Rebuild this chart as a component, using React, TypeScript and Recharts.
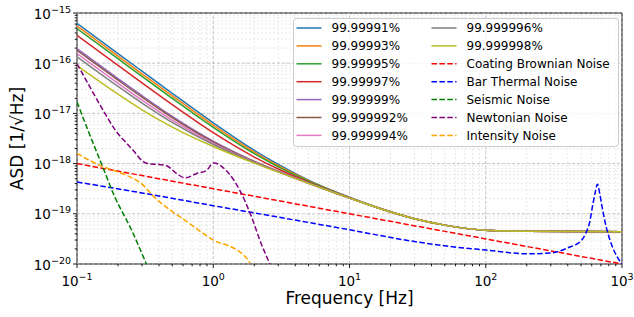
import React from "react";
import {
  LineChart,
  Line,
  XAxis,
  YAxis,
  CartesianGrid,
  ReferenceLine,
  ReferenceArea,
  Legend,
} from "recharts";

const FONT = "DejaVu Sans";

// frequencies shared by the mirror curves [Hz]
const FREQ = [0.1, 0.2, 0.3, 0.5, 1, 2, 3, 5, 10, 20, 30, 50, 100, 200, 500, 1000];

// total ASD per mirror reflectivity
const ASD_91 = [6.2e-16, 1.55e-16, 6.92e-17, 2.51e-17, 6.5e-18, 1.84e-18, 9.6e-19, 4.7e-19, 2.14e-19, 1.1e-19, 8.0e-20, 5.95e-20, 4.7e-20, 4.5e-20, 4.42e-20, 4.4e-20];
const ASD_93 = [5.5e-16, 1.38e-16, 6.15e-17, 2.24e-17, 5.85e-18, 1.7e-18, 9.05e-19, 4.59e-19, 2.12e-19, 1.1e-19, 8.0e-20, 5.95e-20, 4.7e-20, 4.5e-20, 4.42e-20, 4.4e-20];
const ASD_95 = [4.9e-16, 1.23e-16, 5.48e-17, 2.0e-17, 5.29e-18, 1.58e-18, 8.62e-19, 4.48e-19, 2.1e-19, 1.1e-19, 8.0e-20, 5.95e-20, 4.7e-20, 4.5e-20, 4.42e-20, 4.4e-20];
const ASD_97 = [3.6e-16, 9.06e-17, 4.06e-17, 1.49e-17, 4.12e-18, 1.35e-18, 7.79e-19, 4.27e-19, 2.08e-19, 1.09e-19, 8.0e-20, 5.95e-20, 4.7e-20, 4.5e-20, 4.42e-20, 4.4e-20];
const ASD_99 = [1.95e-16, 4.95e-17, 2.26e-17, 8.73e-18, 2.79e-18, 1.11e-18, 7.02e-19, 4.1e-19, 2.06e-19, 1.09e-19, 8.0e-20, 5.95e-20, 4.7e-20, 4.5e-20, 4.42e-20, 4.4e-20];
const ASD_992 = [1.8e-16, 4.59e-17, 2.1e-17, 8.2e-18, 2.68e-18, 1.1e-18, 6.97e-19, 4.09e-19, 2.06e-19, 1.09e-19, 8.0e-20, 5.95e-20, 4.7e-20, 4.5e-20, 4.42e-20, 4.4e-20];
const ASD_994 = [1.55e-16, 3.98e-17, 1.84e-17, 7.34e-18, 2.52e-18, 1.07e-18, 6.9e-19, 4.07e-19, 2.05e-19, 1.09e-19, 8.0e-20, 5.95e-20, 4.7e-20, 4.5e-20, 4.42e-20, 4.4e-20];
const ASD_996 = [1.34e-16, 3.45e-17, 1.61e-17, 6.62e-18, 2.4e-18, 1.05e-18, 6.84e-19, 4.06e-19, 2.05e-19, 1.09e-19, 8.0e-20, 5.95e-20, 4.7e-20, 4.5e-20, 4.42e-20, 4.4e-20];
const ASD_998 = [9.0e-17, 2.42e-17, 1.18e-17, 5.33e-18, 2.19e-18, 1.02e-18, 6.75e-19, 4.04e-19, 2.05e-19, 1.09e-19, 8.0e-20, 5.95e-20, 4.7e-20, 4.5e-20, 4.42e-20, 4.4e-20];

const MIRROR_LABELS = [
  "99.99991%", "99.99993%", "99.99995%", "99.99997%", "99.99999%",
  "99.999992%", "99.999994%", "99.999996%", "99.999998%",
];
const MIRROR_COLORS = [
  "#1f77b4", "#ff7f0e", "#2ca02c", "#d62728", "#9467bd",
  "#8c564b", "#e377c2", "#7f7f7f", "#bcbd22",
];
const MIRROR_ASD = [ASD_91, ASD_93, ASD_95, ASD_97, ASD_99, ASD_992, ASD_994, ASD_996, ASD_998];

// noise budgets
const COATING_F = [0.1, 1, 10, 100, 1000];
const COATING_ASD = [1.0e-18, 3.16e-19, 1.0e-19, 3.16e-20, 1.0e-20];

const THERMAL_F = [0.1, 0.3, 1, 3, 10, 30, 50, 100, 200, 300, 400, 500, 540, 580, 610, 635, 660, 685, 710, 750, 790, 850, 920, 1000];
const THERMAL_ASD = [4.3e-19, 2.6e-19, 1.45e-19, 8.6e-20, 4.8e-20, 2.8e-20, 2.3e-20, 1.9e-20, 1.6e-20, 1.65e-20, 2.1e-20, 2.9e-20, 4.0e-20, 7.0e-20, 1.5e-19, 2.6e-19, 3.9e-19, 2.6e-19, 1.5e-19, 7.0e-20, 4.0e-20, 2.2e-20, 1.4e-20, 1.0e-20];

const SEISMIC_F = [0.1, 0.12, 0.151, 0.189, 0.251, 0.323, 0.36];
const SEISMIC_ASD = [1.7e-17, 4.7e-18, 1.0e-18, 2.2e-19, 4.8e-20, 1.0e-20, 5.0e-21];

const NEWTON_F = [0.1, 0.124, 0.155, 0.195, 0.23, 0.26, 0.3, 0.33, 0.4, 0.45, 0.54, 0.62, 0.75, 0.89, 1.01, 1.25, 1.57, 1.9, 2.24, 2.6, 2.8];
const NEWTON_ASD = [9.8e-17, 3.4e-17, 1.17e-17, 4.3e-18, 2.6e-18, 1.8e-18, 1.15e-18, 1.0e-18, 9.6e-19, 9.2e-19, 6.3e-19, 5.2e-19, 6.3e-19, 7.3e-19, 1.03e-18, 7.2e-19, 2.9e-19, 9.0e-20, 2.6e-20, 1.0e-20, 6.0e-21];

const INTENSITY_F = [0.1, 0.15, 0.2, 0.25, 0.3, 0.36, 0.48, 0.64, 0.84, 1.0, 1.3, 1.5, 1.65, 1.8, 1.86];
const INTENSITY_ASD = [1.6e-18, 9.0e-19, 6.8e-19, 5.3e-19, 3.9e-19, 2.3e-19, 1.2e-19, 7.0e-20, 4.1e-20, 3.0e-20, 2.3e-20, 1.9e-20, 1.55e-20, 1.2e-20, 1.05e-20];

const NOISES = [
  { name: "Coating Brownian Noise", color: "#ff0000", f: COATING_F, v: COATING_ASD },
  { name: "Bar Thermal Noise", color: "#0000ff", f: THERMAL_F, v: THERMAL_ASD },
  { name: "Seismic Noise", color: "#008000", f: SEISMIC_F, v: SEISMIC_ASD },
  { name: "Newtonian Noise", color: "#800080", f: NEWTON_F, v: NEWTON_ASD },
  { name: "Intensity Noise", color: "#ffa500", f: INTENSITY_F, v: INTENSITY_ASD },
];

const X_DECADES = [0.1, 1, 10, 100, 1000];
const Y_DECADES = [1e-20, 1e-19, 1e-18, 1e-17, 1e-16, 1e-15];

const minorTicks = (decades: number[]) => {
  const out: number[] = [];
  decades.forEach((d, i) => {
    out.push(d);
    if (i < decades.length - 1) for (let k = 2; k <= 9; k++) out.push(d * k);
  });
  return out;
};
const X_TICKS = minorTicks(X_DECADES);
const Y_TICKS = minorTicks(Y_DECADES);

const DASH = "5.5 2.4";

const mirrorRows = FREQ.map((f, i) => {
  const row: any = { f };
  MIRROR_ASD.forEach((s, j) => (row["m" + j] = s[i]));
  return row;
});

const expOf = (v: number) => {
  const l = Math.log10(v);
  const e = Math.round(l);
  return { e, major: Math.abs(l - e) < 1e-6 };
};
const expText = (e: number) => (e < 0 ? "\u2212" + Math.abs(e) : String(e));

const XTick = (props: any) => {
  const { x, y, payload } = props;
  const { e, major } = expOf(payload.value);
  return (
    <g>
      <line x1={x} x2={x} y1={y} y2={y + (major ? 4 : 2.3)} stroke="#000" strokeWidth={0.9} />
      {major && (
        <text x={x} y={y + 22} textAnchor="middle" fontFamily={FONT} fontSize={13.5} fill="#000">
          <tspan>10</tspan>
          <tspan dy={-6} fontSize={9.5}>{expText(e)}</tspan>
        </text>
      )}
    </g>
  );
};

const YTick = (props: any) => {
  const { x, y, payload } = props;
  const { e, major } = expOf(payload.value);
  return (
    <g>
      <line x1={x - (major ? 4 : 2.3)} x2={x} y1={y} y2={y} stroke="#000" strokeWidth={0.9} />
      {major && (
        <text x={x - 6} y={y + 5.5} textAnchor="end" fontFamily={FONT} fontSize={13.5} fill="#000">
          <tspan>10</tspan>
          <tspan dy={-6} fontSize={9.5}>{expText(e)}</tspan>
        </text>
      )}
    </g>
  );
};

const LEGEND_ITEMS = [
  ...MIRROR_LABELS.map((name, i) => ({ name, color: MIRROR_COLORS[i], dashed: false })),
  ...NOISES.map((n) => ({ name: n.name, color: n.color, dashed: true })),
];

const LegendBox = () => (
  <svg width={326} height={129} style={{ display: "block" }}>
    <rect x={0.5} y={0.5} width={325} height={128} rx={3} fill="#fff" fillOpacity={0.8} stroke="#cccccc" />
    {LEGEND_ITEMS.map((it, i) => {
      const col = Math.floor(i / 7);
      const row = i % 7;
      const lx = col === 0 ? 3.5 : 138.5;
      const cy = 10 + row * 17.9;
      return (
        <g key={it.name}>
          <line
            x1={lx}
            x2={lx + 25}
            y1={cy}
            y2={cy}
            stroke={it.color}
            strokeWidth={1.5}
            strokeDasharray={it.dashed ? DASH : undefined}
          />
          <text x={lx + 35} y={cy + 4.4} fontFamily={FONT} fontSize={12} fill="#000">
            {it.name}
          </text>
        </g>
      );
    })}
  </svg>
);

export default function App() {
  return (
    <div style={{ position: "absolute", left: 0, top: 0 }}>
      <LineChart width={634} height={317} data={mirrorRows} margin={{ top: 13, right: 12, bottom: 0, left: 0 }}>
        <CartesianGrid stroke="#e2e2e2" strokeDasharray="2 2" strokeWidth={0.8} />
        {X_DECADES.map((d) => (
          <ReferenceLine key={"x" + d} x={d} stroke="#bdbdbd" strokeDasharray="3 2" strokeWidth={0.8} />
        ))}
        {Y_DECADES.map((d) => (
          <ReferenceLine key={"y" + d} y={d} stroke="#bdbdbd" strokeDasharray="3 2" strokeWidth={0.8} />
        ))}
        <XAxis
          dataKey="f"
          type="number"
          scale="log"
          domain={[0.1, 1000]}
          allowDataOverflow
          ticks={X_TICKS}
          interval={0}
          height={53}
          axisLine={false}
          tickLine={false}
          tickSize={0}
          tickMargin={0}
          tick={<XTick />}
          label={{
            content: (p: any) => (
              <text
                x={p.viewBox.x + p.viewBox.width / 2}
                y={p.viewBox.y + 40}
                textAnchor="middle"
                fontFamily={FONT}
                fontSize={17}
                fill="#000"
              >
                Frequency [Hz]
              </text>
            ),
          }}
        />
        <YAxis
          type="number"
          scale="log"
          domain={[1e-20, 1e-15]}
          allowDataOverflow
          ticks={Y_TICKS}
          interval={0}
          width={77}
          axisLine={false}
          tickLine={false}
          tickSize={0}
          tickMargin={0}
          tick={<YTick />}
          label={{
            content: (p: any) => {
              const cy = p.viewBox.y + p.viewBox.height / 2;
              return (
                <text
                  x={23}
                  y={cy}
                  transform={`rotate(-90 23 ${cy})`}
                  textAnchor="middle"
                  fontFamily={FONT}
                  fontSize={17}
                  fill="#000"
                >
                  ASD [1/√Hz]
                </text>
              );
            },
          }}
        />
        {MIRROR_LABELS.map((name, j) => (
          <Line
            key={name}
            name={name}
            dataKey={"m" + j}
            type="monotone"
            stroke={MIRROR_COLORS[j]}
            strokeWidth={1.5}
            dot={false}
            isAnimationActive={false}
          />
        ))}
        {NOISES.map((n) => (
          <Line
            key={n.name}
            name={n.name}
            data={n.f.map((f, i) => ({ f, v: n.v[i] }))}
            dataKey="v"
            type="monotone"
            stroke={n.color}
            strokeWidth={1.5}
            strokeDasharray={DASH}
            dot={false}
            isAnimationActive={false}
          />
        ))}
        <ReferenceArea x1={0.1} x2={1000} y1={1e-20} y2={1e-15} fill="none" stroke="#000" strokeWidth={1} />
        <Legend
          layout="horizontal"
          verticalAlign="middle"
          align="center"
          wrapperStyle={{ position: "absolute", left: 293, top: 18, width: 326, height: 129 }}
          content={() => <LegendBox />}
        />
      </LineChart>
    </div>
  );
}
